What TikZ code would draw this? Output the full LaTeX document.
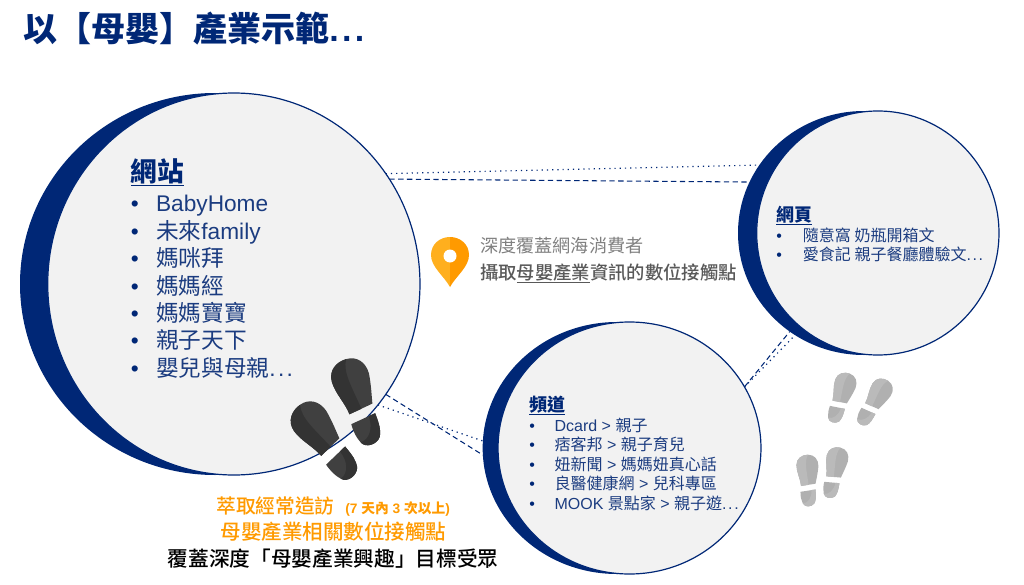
\documentclass[tikz,border=0pt]{standalone}
\usepackage{fontspec}
\setmainfont{Liberation Sans}
\newfontfamily\tc{Noto Sans CJK TC}
\newfontfamily\tcm{Noto Sans CJK TC Medium}
\usetikzlibrary{shapes.geometric}
\definecolor{navyc}{HTML}{002776}
\definecolor{itemc}{HTML}{1B3C80}
\definecolor{discc}{HTML}{F2F2F2}
\definecolor{orangec}{HTML}{FF9A00}
\definecolor{pinc}{HTML}{FFAF1E}
\newcommand{\bul}[1]{\makebox[#1][l]{\textcolor{navyc}{\textbullet}}}
\newcommand{\sdots}{.\kern.1em.\kern.1em.}
\tikzset{
	backdisc/.style={ellipse,fill=navyc,inner sep=0pt,outer sep=0pt},
	frontdisc/.style={ellipse,fill=discc,draw=navyc,line width=.9pt,inner sep=0pt,outer sep=0pt},
	dotline/.style={navyc,line width=.9pt,dash pattern=on .9pt off 3pt},
	dashline/.style={navyc,line width=.8pt,dash pattern=on 4pt off 2.6pt},
	bigitem/.style={anchor=base west,inner sep=0pt,text=itemc,font=\fontsize{17}{20}\selectfont},
	smallitem/.style={anchor=base west,inner sep=0pt,text=itemc,font=\fontsize{12}{14}\selectfont},
	heading/.style={anchor=base west,inner sep=0pt,text=navyc,font=\fontsize{13.5}{16}\selectfont\bfseries},
	pics/shoe/.style args={#1/#2}{code={
		\fill[#1] (-12,0) .. controls (-13,-12) and (-20,-24) .. (-20,-36) .. controls (-20,-48) and (-10,-54) .. (0,-54) .. controls (11,-54) and (18,-46) .. (18,-34) .. controls (17,-22) and (14,-10) .. (13,-4) -- cycle;
		\fill[#2] (-12,0) .. controls (-13,-12) and (-20,-24) .. (-20,-36) .. controls (-20,-48) and (-10,-54) .. (0,-54) .. controls (-7,-42) and (-2,-25) .. (1,-2) -- cycle;
		\fill[#1] (-13,10) -- (13,6) .. controls (14,18) and (14,24) .. (11,30) .. controls (6,37) and (-6,37) .. (-9,30) .. controls (-12,24) and (-13,18) .. (-13,10) -- cycle;
		\fill[#2] (6,7) -- (13,6) .. controls (14,18) and (14,24) .. (11,30) .. controls (6,37) and (-6,37) .. (-9,30) .. controls (0,30) and (7,20) .. (6,7) -- cycle;
	}}
}
\begin{document}
\begin{tikzpicture}[x=.75pt,y=-.75pt,line join=round]
	\useasboundingbox (0,0) rectangle (1024,585);
	\node (title) [anchor=base west,inner sep=0pt,text=navyc,font=\fontsize{25.5}{30}\selectfont\bfseries] at (23,42) {\tc 以【母嬰】產業示範\rm\bfseries\sdots};

	\node (siteback) [backdisc,minimum width=292.5pt,minimum height=286.5pt] at (215,284) {};
	\node (site) [frontdisc,minimum width=279.2pt,minimum height=286.5pt] at (233.85,284) {};
	\node (pageback) [backdisc,minimum width=189pt,minimum height=183pt] at (864,233) {};
	\node (page) [frontdisc,minimum width=181.7pt,minimum height=183pt] at (877.85,233) {};
	\node (channelback) [backdisc,minimum width=201.5pt,minimum height=189pt] at (617,448) {};
	\node (channel) [frontdisc,minimum width=197.2pt,minimum height=189pt] at (629.5,448) {};

	\draw[dotline] (site.36.9) -- (pageback.147.6);
	\draw[dashline] (site.34.2) -- (pageback.156.9);
	\draw[dotline] (site.-40.7) -- (channelback.177);
	\draw[dashline] (site.-36.2) -- (channelback.183.4);
	\draw[dotline] (channel.28.3) -- (pageback.236.4);
	\draw[dashline] (channel.28.4) -- (pageback.233);

	\node (sitehead) [heading,font=\fontsize{20}{24}\selectfont\bfseries] at (130.5,181) {\underline{\tc 網站}};
	\foreach \y/\t [count=\i] in {211/BabyHome,239/{{\tc 未來}family},266/{\tc 媽咪拜},294/{\tc 媽媽經},321/{\tc 媽媽寶寶},348/{\tc 親子天下},376/{{\tc 嬰兒與母親}\sdots}}
		\node (site\i) [bigitem] at (130.5,\y) {\bul{19pt}\t};

	\node (pagehead) [heading] at (776,221) {\underline{\tc 網頁}};
	\foreach \y/\t [count=\i] in {241/{\tc 隨意窩 奶瓶開箱文},260/{{\tc 愛食記 親子餐廳體驗文}\sdots}}
		\node (page\i) [smallitem] at (776,\y) {\bul{20pt}\t};

	\node (channelhead) [heading] at (529,411) {\underline{\tc 頻道}};
	\foreach \y/\t [count=\i] in {431/{Dcard > {\tc 親子}},450/{{\tc 痞客邦} > {\tc 親子育兒}},470/{{\tc 妞新聞} > {\tc 媽媽妞真心話}},489/{{\tc 良醫健康網} > {\tc 兒科專區}},509/{MOOK {\tc 景點家} > {\tc 親子遊}\sdots}}
		\node (channel\i) [smallitem] at (529,\y) {\bul{19pt}\t};

	% pin
	\fill[pinc] (450,287) .. controls (444,276) and (431,267) .. (431,255) .. controls (431,244) and (440,237) .. (450,237) -- cycle;
	\fill[orangec] (450,287) .. controls (456,276) and (469,267) .. (469,255) .. controls (469,244) and (460,237) .. (450,237) -- cycle;
	\fill[white] (450,256) circle (6.5);

	\node (reach) [anchor=base west,inner sep=0pt,text=black!50,font=\fontsize{13.6}{16}\selectfont] at (480,252) {\tc 深度覆蓋網海消費者};
	\node (grab) [anchor=base west,inner sep=0pt,text=black!65,font=\fontsize{13.75}{16}\selectfont] at (480,279) {\tcm 攝取\underline{母嬰產業}資訊的數位接觸點};

	\node (visit) [anchor=base west,inner sep=0pt,text=orangec,font=\fontsize{14.8}{18}\selectfont] at (216,513) {\tcm 萃取經常造訪\kern8pt{\fontsize{10.3}{12}\selectfont\rm\bfseries (7 {\tc 天內} 3 {\tc 次以上})}};
	\node (touch) [anchor=base,inner sep=0pt,text=orangec,font=\fontsize{15.4}{18}\selectfont] at (333.5,539) {\tcm 母嬰產業相關數位接觸點};
	\node (cover) [anchor=base,inner sep=0pt,text=black,font=\fontsize{15.5}{18}\selectfont] at (333,566) {\tcm 覆蓋深度「母嬰產業興趣」目標受眾};

	\pic[rotate=16] at (361,411) {shoe={black!75/black!80}};
	\pic[rotate=35] at (331,449) {shoe={black!75/black!80}};
	\pic[rotate=-20,scale=.58] at (839,403) {shoe={black!31/black!27}};
	\pic[rotate=-33,scale=.58] at (871,407) {shoe={black!31/black!27}};
	\pic[rotate=0,scale=.58] at (808,486) {shoe={black!31/black!27}};
	\pic[rotate=-14,scale=.58] at (833,478) {shoe={black!31/black!27}};
\end{tikzpicture}
\end{document}
